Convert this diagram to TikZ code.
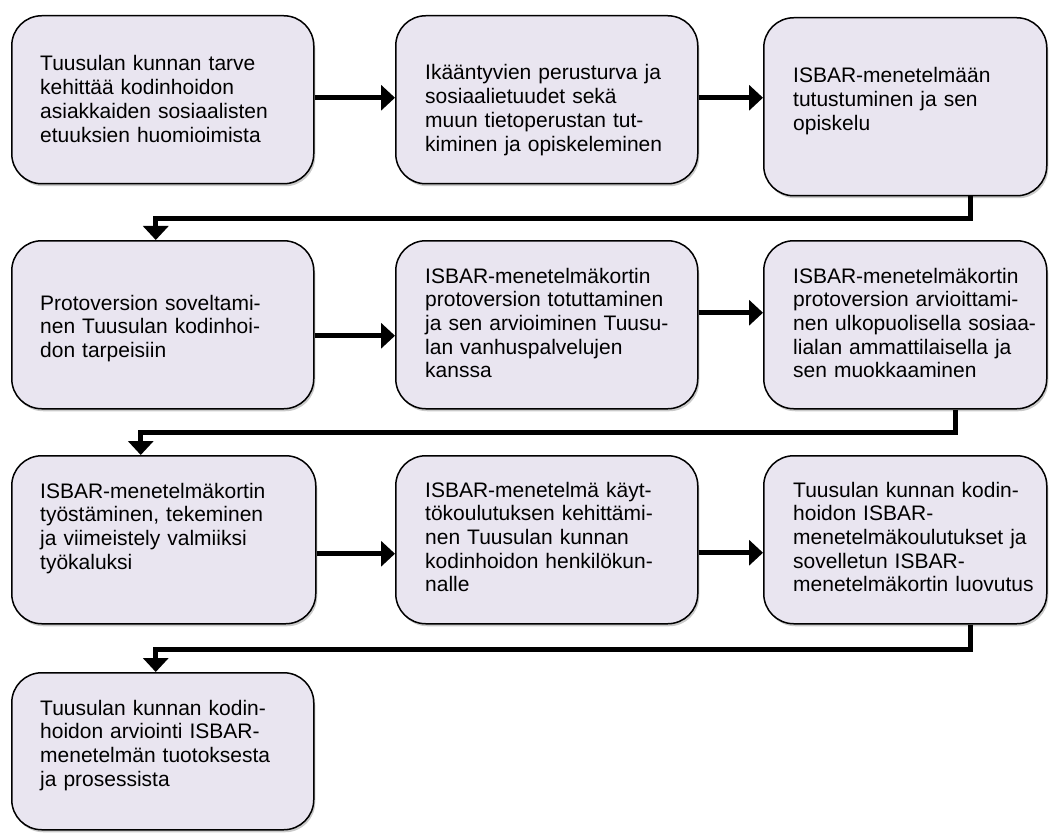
\documentclass[tikz,border=0pt]{standalone}
\usepackage{fontspec}
\setmainfont{Liberation Sans}
\usetikzlibrary{arrows.meta,shadows}
\definecolor{boxfill}{RGB}{233,229,240}
\begin{document}
\begin{tikzpicture}[x=1pt,y=-1pt,
  box/.style={draw=black, line width=1.5pt, rounded corners=30pt, fill=boxfill,
    minimum width=302pt, minimum height=168pt, anchor=north west, inner sep=0pt,
    drop shadow={shadow xshift=1.5pt, shadow yshift=-2.5pt, opacity=0.35, fill=black!60}},
  txt/.style={anchor=base west, inner sep=0pt, text width=300pt, align=left,
    font=\fontsize{21}{23.7}\selectfont},
  arr/.style={line width=5pt, -{Triangle[width=25pt,length=14pt]}}]
\useasboundingbox (0,0) rectangle (1056,834);

% boxes
\node[box] (b1) at (11,15) {};
\node[box] (b2) at (395,15) {};
\node[box, minimum width=283pt, minimum height=178pt] (b3) at (763,17) {};
\node[box] (b4) at (11,240) {};
\node[box] (b5) at (395,240) {};
\node[box, minimum width=283pt] (b6) at (763,240) {};
\node[box, minimum width=304pt] (b7) at (11,455) {};
\node[box] (b8) at (395,455) {};
\node[box, minimum width=283pt] (b9) at (763,455) {};
\node[box, minimum height=157pt] (b10) at (11,672) {};

% texts
\node[txt] (t1) at (40,71) {Tuusulan kunnan tarve\\kehittää kodinhoidon\\asiakkaiden sosiaalisten\\etuuksien huomioimista};
\node[txt] (t2) at (425,80) {Ikääntyvien perusturva ja\\sosiaalietuudet sekä\\muun tietoperustan tut-\\kiminen ja opiskeleminen};
\node[txt] (t3) at (793,83) {ISBAR-menetelmään\\tutustuminen ja sen\\opiskelu};
\node[txt] (t4) at (40,310) {Protoversion soveltami-\\nen Tuusulan kodinhoi-\\don tarpeisiin};
\node[txt] (t5) at (425,283) {ISBAR-menetelmäkortin\\protoversion totuttaminen\\ja sen arvioiminen Tuusu-\\lan vanhuspalvelujen\\kanssa};
\node[txt] (t6) at (793,283) {ISBAR-menetelmäkortin\\protoversion arvioittami-\\nen ulkopuolisella sosiaa-\\lialan ammattilaisella ja\\sen muokkaaminen};
\node[txt] (t7) at (40,498) {ISBAR-menetelmäkortin\\työstäminen, tekeminen\\ja viimeistely valmiiksi\\työkaluksi};
\node[txt] (t8) at (425,497) {ISBAR-menetelmä käyt-\\tökoulutuksen kehittämi-\\nen Tuusulan kunnan\\kodinhoidon henkilökun-\\nalle};
\node[txt] (t9) at (793,497) {Tuusulan kunnan kodin-\\hoidon ISBAR-\\menetelmäkoulutukset ja\\sovelletun ISBAR-\\menetelmäkortin luovutus};
\node[txt] (t10) at (40,715) {Tuusulan kunnan kodin-\\hoidon arviointi ISBAR-\\menetelmän tuotoksesta\\ja prosessista};

% row connectors
\draw[arr] ([yshift=2pt]b1.east) -- ([yshift=2pt]b1.east -| b2.west);
\draw[arr] ([yshift=2pt]b2.east) -- ([yshift=2pt]b2.east -| b3.west);
\draw[arr] ([yshift=-11pt]b4.east) -- ([yshift=-11pt]b4.east -| b5.west);
\draw[arr] ([yshift=12pt]b5.east) -- ([yshift=12pt]b5.east -| b6.west);
\draw[arr] ([yshift=-14pt]b7.east) -- ([yshift=-14pt]b7.east -| b8.west);
\draw[arr] ([yshift=-13pt]b8.east) -- ([yshift=-13pt]b8.east -| b9.west);

% elbow connectors
\draw[arr] ([xshift=65.5pt]b3.south) -- ++(0,22) -| ([xshift=-7pt]b4.north);
\draw[arr] ([xshift=50.5pt]b6.south) -- ++(0,23) -| ([xshift=-23pt]b7.north);
\draw[arr] ([xshift=65.5pt]b9.south) -- ++(0,25) -| ([xshift=-7pt]b10.north);
\end{tikzpicture}
\end{document}
